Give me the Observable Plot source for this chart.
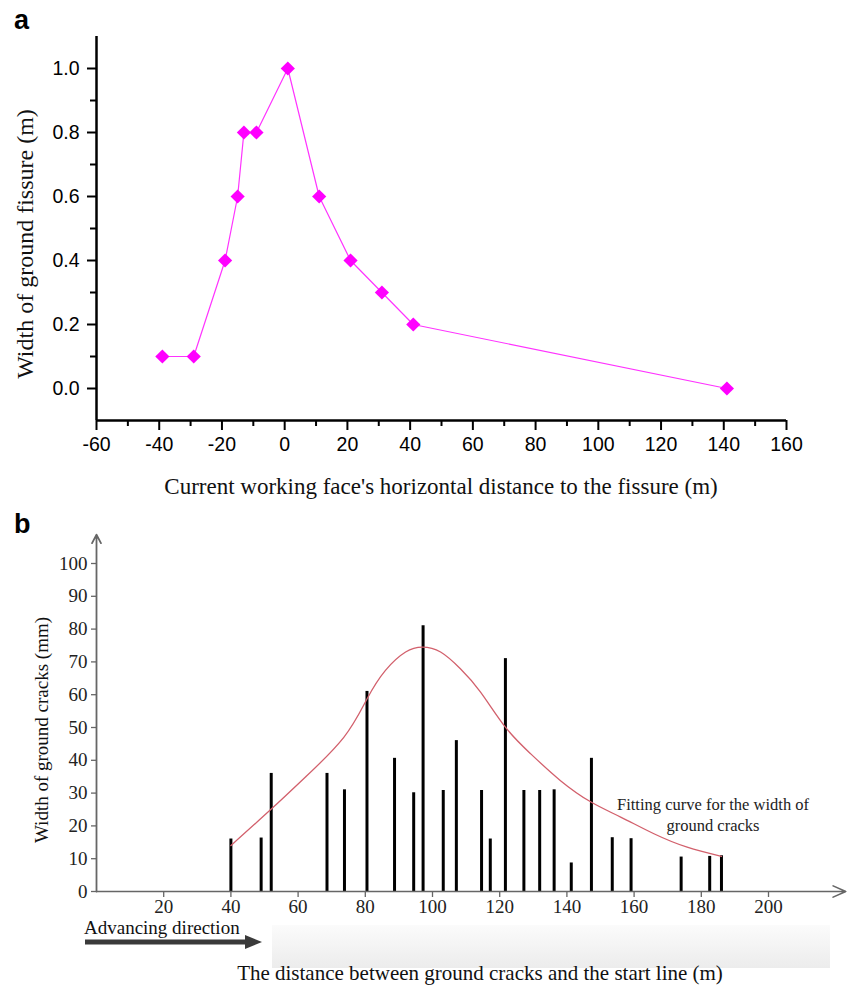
<!DOCTYPE html>
<html>
<head>
<meta charset="utf-8">
<script src="https://cdn.jsdelivr.net/npm/d3@7"></script>
<script src="https://cdn.jsdelivr.net/npm/@observablehq/plot@0.6"></script>
<style>
  body { margin: 0; background: #fff; }
  #wrap { position: relative; width: 848px; height: 986px; overflow: hidden; background: #fff; }
  .abs { position: absolute; white-space: nowrap; }
  .letter { font-family: "Liberation Sans", Arial, sans-serif; font-weight: bold; font-size: 27px; line-height: 1; color: #000; }
  .serif { font-family: "Liberation Serif", "Times New Roman", serif; color: #111; }
  #gbox { position: absolute; left: 272px; top: 925px; width: 558px; height: 43px;
          background: linear-gradient(#fbfbfb, #ececec); }
</style>
</head>
<body>
<div id="wrap">
  <div id="gbox"></div>
  <div id="pa" class="abs" style="left:0;top:0"></div>
  <div id="pb" class="abs" style="left:0;top:510px"></div>

  <div class="abs letter" style="left:14px;top:7px">a</div>
  <div class="abs letter" style="left:14px;top:511px">b</div>

  <div class="abs serif" style="left:441px;top:487px;font-size:23px;transform:translate(-50%,-50%)">Current working face's horizontal distance to the fissure (m)</div>
  <div class="abs serif" style="left:25px;top:244px;font-size:24px;transform:translate(-50%,-50%) rotate(-90deg)">Width of ground fissure (m)</div>

  <div class="abs serif" style="left:42px;top:730px;font-size:19px;transform:translate(-50%,-50%) rotate(-90deg)">Width of ground cracks (mm)</div>
  <div class="abs serif" style="left:480px;top:973px;font-size:21px;transform:translate(-50%,-50%)">The distance between ground cracks and the start line (m)</div>
  <div class="abs serif" style="left:713px;top:794px;font-size:16.5px;line-height:21px;text-align:center;transform:translateX(-50%);color:#222">Fitting curve for the width of<br>ground cracks</div>
  <div class="abs serif" style="left:84px;top:918px;font-size:19px;line-height:1;color:#111">Advancing direction</div>
  <svg class="abs" style="left:80px;top:932px" width="190" height="22">
    <line x1="5" y1="10" x2="168" y2="10" stroke="#3a3a3a" stroke-width="5"/>
    <polygon points="165,3 182,10 165,17" fill="#3a3a3a"/>
  </svg>
</div>

<script>
// ---------- Panel a data ----------
const aDistance = [-39, -29, -19, -15, -13, -9, 1, 11, 21, 31, 41, 141];
const aWidth    = [0.1, 0.1, 0.4, 0.6, 0.8, 0.8, 1.0, 0.6, 0.4, 0.3, 0.2, 0.0];
const aXTicks   = [-60, -40, -20, 0, 20, 40, 60, 80, 100, 120, 140, 160];
const aXMinor   = [-50, -30, -10, 10, 30, 50, 70, 90, 110, 130, 150];
const aYTicks   = [0.0, 0.2, 0.4, 0.6, 0.8, 1.0];
const aYMinor   = [0.1, 0.3, 0.5, 0.7, 0.9];
const aXDomain  = [-60, 160];
const aYDomain  = [-0.1, 1.1];

// ---------- Panel b data ----------
const bCrackPos   = [40, 49, 52, 68.6, 73.8, 80.5, 88.7, 94.4, 97.2, 103.2, 107.1, 114.6, 117.2, 121.7, 127.2, 131.9, 136.2, 141.3, 147.3, 153.5, 159.1, 174, 182.5, 186];
const bCrackWidth = [16, 16.3, 36, 36, 31, 61, 40.6, 30.1, 81, 30.8, 46, 30.8, 16, 71, 30.8, 30.8, 31, 8.7, 40.6, 16.4, 16.1, 10.5, 10.7, 10.9];
const bFitPos     = [40, 52.1, 62.2, 73.6, 80.5, 86, 92, 97, 102.4, 108.3, 114.3, 121.7, 129.2, 138.1, 147.3, 156, 165.9, 175.8, 186];
const bFitWidth   = [14, 25.2, 34.9, 47, 58.7, 67.4, 73, 74.5, 73, 67.9, 60.8, 50.1, 42, 33.8, 27.2, 22.7, 17.6, 13.5, 10.7];
const bXTicks     = [20, 40, 60, 80, 100, 120, 140, 160, 180, 200];
const bYTicks     = [0, 10, 20, 30, 40, 50, 60, 70, 80, 90, 100];
const bXDomain    = [0, 200];
const bYDomain    = [0, 100];
const bXAxisEnd   = 223;
const bYAxisEnd   = 108.8;

const aData = aDistance.map((x, i) => ({x, y: aWidth[i]}));
const bBars = bCrackPos.map((x, i) => ({x, y: bCrackWidth[i]}));
const bFit  = bFitPos.map((x, i) => ({x, y: bFitWidth[i]}));

const plotA = Plot.plot({
  width: 848, height: 510,
  marginLeft: 96, marginRight: 62, marginTop: 36, marginBottom: 90,
  x: {domain: aXDomain},
  y: {domain: aYDomain},
  style: {fontFamily: "'Liberation Sans', Arial, sans-serif", fontSize: "19.5px", color: "#000", background: "transparent"},
  marks: [
    Plot.axisX(aXTicks, {tickSize: 10, tickPadding: 7, strokeWidth: 2, tickFormat: d => String(d), label: null}),
    Plot.axisX(aXMinor, {tickSize: 6, strokeWidth: 2, tickFormat: () => "", label: null}),
    Plot.axisY(aYTicks, {tickSize: 9, tickPadding: 8, strokeWidth: 2, tickFormat: d => d.toFixed(1), label: null}),
    Plot.axisY(aYMinor, {tickSize: 6, strokeWidth: 2, tickFormat: () => "", label: null}),
    Plot.ruleX([aXDomain[0]], {y1: aYDomain[0], y2: aYDomain[1], strokeWidth: 2.5, stroke: "#000"}),
    Plot.ruleY([aYDomain[0]], {x1: aXDomain[0], x2: aXDomain[1], strokeWidth: 2.5, stroke: "#000"}),
    Plot.line(aData, {x: "x", y: "y", stroke: "#ff33ff", strokeWidth: 1.2}),
    Plot.dot(aData, {x: "x", y: "y", symbol: "diamond2", r: 6.4, fill: "#ff00ff", stroke: "none"})
  ]
});
document.getElementById("pa").appendChild(plotA);

const plotB = Plot.plot({
  width: 848, height: 476,
  marginLeft: 96, marginRight: 80, marginTop: 53, marginBottom: 95,
  x: {domain: bXDomain},
  y: {domain: bYDomain},
  style: {fontFamily: "'Liberation Serif', 'Times New Roman', serif", fontSize: "19px", color: "#222", background: "transparent"},
  marks: [
    Plot.axisX(bXTicks, {tickSize: 6, tickPadding: 2, stroke: "#666", strokeWidth: 1.3, tickFormat: d => String(d), label: null}),
    Plot.axisY(bYTicks, {tickSize: 5, tickPadding: 4, stroke: "#666", strokeWidth: 1.3, tickFormat: d => String(d), label: null}),
    Plot.ruleX(bBars, {x: "x", y1: 0, y2: "y", stroke: "#000", strokeWidth: 3}),
    Plot.line(bFit, {x: "x", y: "y", stroke: "#d2606c", strokeWidth: 1.3, curve: "natural"}),
    Plot.arrow([0], {x1: 0, x2: 0, y1: 0, y2: bYAxisEnd, stroke: "#666", strokeWidth: 1.8, headLength: 8, headAngle: 55}),
    Plot.arrow([0], {x1: 0, x2: bXAxisEnd, y1: 0, y2: 0, stroke: "#666", strokeWidth: 1.6, headLength: 13, headAngle: 48})
  ]
});
document.getElementById("pb").appendChild(plotB);
</script>
</body>
</html>
